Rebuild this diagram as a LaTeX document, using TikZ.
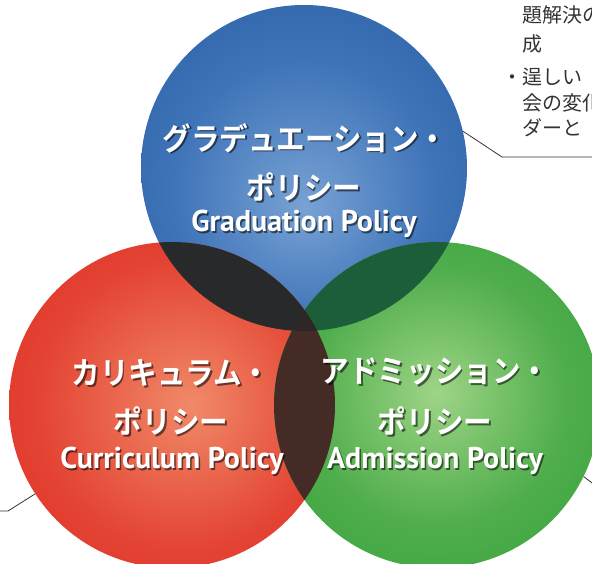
\documentclass[tikz,border=0pt]{standalone}
\usepackage{fontspec}
\usepackage{tikz}
\usetikzlibrary{positioning}
\newfontfamily\jpfont{Noto Sans CJK JP}[BoldFont={Noto Sans CJK JP Bold}]
\newfontfamily\notefont{Noto Sans CJK JP}
\newfontfamily\enfont{PT Sans}

% circle colours
\definecolor{gpin}{HTML}{78A2D4}
\definecolor{gpmid}{HTML}{3F74B8}
\definecolor{gpout}{HTML}{194E97}
\definecolor{cpin}{HTML}{F08A68}
\definecolor{cpmid}{HTML}{E44434}
\definecolor{cpout}{HTML}{D31B1B}
\definecolor{apin}{HTML}{9ED486}
\definecolor{apmid}{HTML}{4FAD4C}
\definecolor{apout}{HTML}{229A2D}
% overlaps
\definecolor{brmix}{HTML}{28292B}
\definecolor{bgmix}{HTML}{1B5E39}
\definecolor{rgmix}{HTML}{452B26}
\definecolor{allmix}{HTML}{2D2826}

\pgfdeclareradialshading{shadegp}{\pgfpoint{0bp}{-6bp}}{color(0bp)=(gpin); color(20bp)=(gpmid); color(50bp)=(gpout)}
\pgfdeclareradialshading{shadecp}{\pgfpoint{3bp}{0bp}}{color(0bp)=(cpin); color(22bp)=(cpmid); color(50bp)=(cpout)}
\pgfdeclareradialshading{shadeap}{\pgfpoint{0bp}{2bp}}{color(0bp)=(apin); color(20bp)=(apmid); color(50bp)=(apout)}

\begin{document}
\begin{tikzpicture}[x=1pt,y=-1pt,
    polcircle/.style={circle,minimum size=326pt,inner sep=0pt},
    jp/.style={text=white,font=\jpfont\bfseries\fontsize{31}{31}\selectfont,inner sep=0pt,xscale=.92,transform shape},
    en/.style={text=white,font=\enfont\bfseries\fontsize{30}{30}\selectfont,inner sep=0pt},
    shd/.style={text=black,opacity=.55},
    note/.style={text=black!80,font=\notefont\fontsize{20}{20}\selectfont,anchor=west,inner sep=0pt},
    leader/.style={draw=black!80,line width=.8pt}]
  % the frame
  \path[use as bounding box] (0,0) rectangle (592,564);
  \clip (0,0) rectangle (592,564);

  %% the three policies
  \foreach \n/\x/\y in {gp/304/168,cp/172/405,ap/437/405}
    \node[polcircle,shading=shade\n] (\n) at (\x,\y) {};

  % overlaps
  \begin{scope}
    \clip (gp.center) circle[radius=163pt];
    \fill[brmix] (cp.center) circle[radius=163pt];
    \fill[bgmix] (ap.center) circle[radius=163pt];
  \end{scope}
  \begin{scope}
    \clip (cp.center) circle[radius=163pt];
    \fill[rgmix] (ap.center) circle[radius=163pt];
  \end{scope}
  \begin{scope}
    \clip (gp.center) circle[radius=163pt];
    \clip (cp.center) circle[radius=163pt];
    \fill[allmix] (ap.center) circle[radius=163pt];
  \end{scope}

  %% titles, with a drop shadow
  \foreach \n/\x/\y/\t in {gpa/305/138/グラデュエーション・,gpb/304/187/ポリシー,
      cpa/171/373/カリキュラム・,cpb/171/421/ポリシー,
      apa/435/372/アドミッション・,apb/435/421/ポリシー}
  {
    \node[jp,shd] (\n s) at (\x+1.8,\y+1.8) {\t};
    \node[jp] (\n) at (\x,\y) {\t};
  }
  \foreach \n/\x/\y/\t in {gpc/304/224/Graduation Policy,cpc/172/461/Curriculum Policy,
      apc/435/461/Admission Policy}
  {
    \node[en,shd] (\n s) at (\x+1.5,\y+1.5) {\t};
    \node[en] (\n) at (\x,\y) {\t};
  }

  %% side notes and leaders
  \node[note] (n1) at (522,15) {題解決の};
  \node[note] (n2) at (522,44) {成};
  \node[note] (n3) at (502,77) {・逞しい};
  \node[note] (n4) at (522,103) {会の変化};
  \node[note] (n5) at (522,128) {ダーと};

  \coordinate (gpk) at (502,157);
  \coordinate (gpe) at (592,157);
  \draw[leader] (gp.13) -- (gpk) -- (gpe);
  \coordinate (cpk) at (8,511);
  \coordinate (cpe) at (0,511);
  \draw[leader] (cp.213) -- (cpk) -- (cpe);
  \coordinate (ape) at (600,489);
  \draw[leader] (ap.-26) -- (ape);
\end{tikzpicture}
\end{document}
